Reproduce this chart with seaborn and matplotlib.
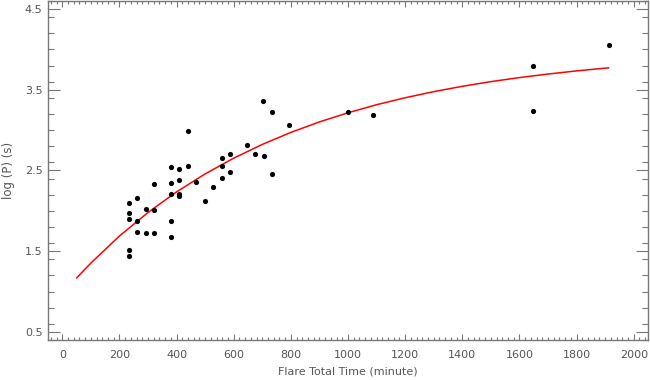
import matplotlib
matplotlib.use("Agg")
import matplotlib.pyplot as plt
from matplotlib.ticker import MultipleLocator, FixedLocator
import seaborn as sns
import pandas as pd

# Observed data points (flare total time in minutes, log period)
flare_time = [703, 735, 793, 440, 646, 676, 705, 588, 559, 559, 588, 559, 734,
              380, 410, 440, 380, 410, 469, 322, 380, 410, 410, 529, 500, 233,
              262, 233, 233, 293, 322, 262, 380, 262, 293, 322, 380, 233, 233,
              1001, 1089, 1649, 1649, 1914]
log_p = [3.36, 3.23, 3.06, 2.99, 2.81, 2.71, 2.68, 2.70, 2.66, 2.55, 2.48, 2.41, 2.46,
         2.54, 2.52, 2.55, 2.35, 2.38, 2.36, 2.33, 2.21, 2.21, 2.19, 2.29, 2.12, 2.10,
         2.16, 1.97, 1.90, 2.02, 2.01, 1.88, 1.88, 1.74, 1.73, 1.72, 1.68, 1.52, 1.44,
         3.22, 3.19, 3.79, 3.24, 4.06]

# Fitted curve
fit_time = [50, 100, 200, 300, 400, 500, 600, 700, 800, 900, 1000, 1100, 1200,
            1300, 1400, 1500, 1600, 1700, 1800, 1900, 1913]
fit_logp = [1.168, 1.353, 1.688, 1.980, 2.235, 2.458, 2.653, 2.823, 2.972, 3.102,
            3.215, 3.315, 3.401, 3.477, 3.543, 3.601, 3.651, 3.695, 3.734, 3.768, 3.772]

x_ticks = [0, 200, 400, 600, 800, 1000, 1200, 1400, 1600, 1800, 2000]
y_ticks = [0.5, 1.5, 2.5, 3.5, 4.5]

sns.set_theme(style="ticks")
plt.rcParams['font.family'] = ['DejaVu Sans']

pts = pd.DataFrame({"t": flare_time, "p": log_p})
fit = pd.DataFrame({"t": fit_time, "p": fit_logp})

fig = plt.figure(figsize=(6.5, 3.8), dpi=100)
ax = fig.add_axes([48/650, 1 - 340/380, 600/650, 339/380])

sns.lineplot(data=fit, x="t", y="p", ax=ax, color="red", linewidth=1.1,
             sort=False, estimator=None, zorder=2)
sns.scatterplot(data=pts, x="t", y="p", ax=ax, color="black", s=14,
                edgecolor="black", linewidth=0, zorder=3)

ax.set_xlim(-50, 2050)
ax.set_ylim(0.4, 4.6)
ax.xaxis.set_major_locator(FixedLocator(x_ticks))
ax.yaxis.set_major_locator(FixedLocator(y_ticks))
ax.xaxis.set_minor_locator(MultipleLocator(20))
ax.yaxis.set_minor_locator(MultipleLocator(0.2))
ax.set_xticklabels([str(v) for v in x_ticks])
ax.set_yticklabels([f"{v:.1f}" for v in y_ticks])

axcol = "#777777"
txtcol = "#555555"
for s in ax.spines.values():
    s.set_visible(True)
    s.set_color(axcol)
    s.set_linewidth(1.0)

ax.tick_params(axis="x", which="major", direction="in", length=4.3, width=0.8,
               color=axcol, top=True, bottom=True, labelsize=8, labelcolor=txtcol, pad=7)
ax.tick_params(axis="x", which="minor", direction="in", length=2.2, width=0.8,
               color=axcol, top=True, bottom=True)
ax.tick_params(axis="y", which="major", direction="in", length=8.6, width=0.8,
               color=axcol, left=True, right=True, labelsize=8, labelcolor=txtcol, pad=4)
ax.tick_params(axis="y", which="minor", direction="in", length=4.3, width=0.8,
               color=axcol, left=True, right=True)

ax.set_xlabel("Flare Total Time (minute)", fontsize=8, color=txtcol, labelpad=5)
ax.set_ylabel("log (P) (s)", fontsize=8.5, color=txtcol, labelpad=7)
ax.grid(False)

fig.savefig("out.png", dpi=100)
